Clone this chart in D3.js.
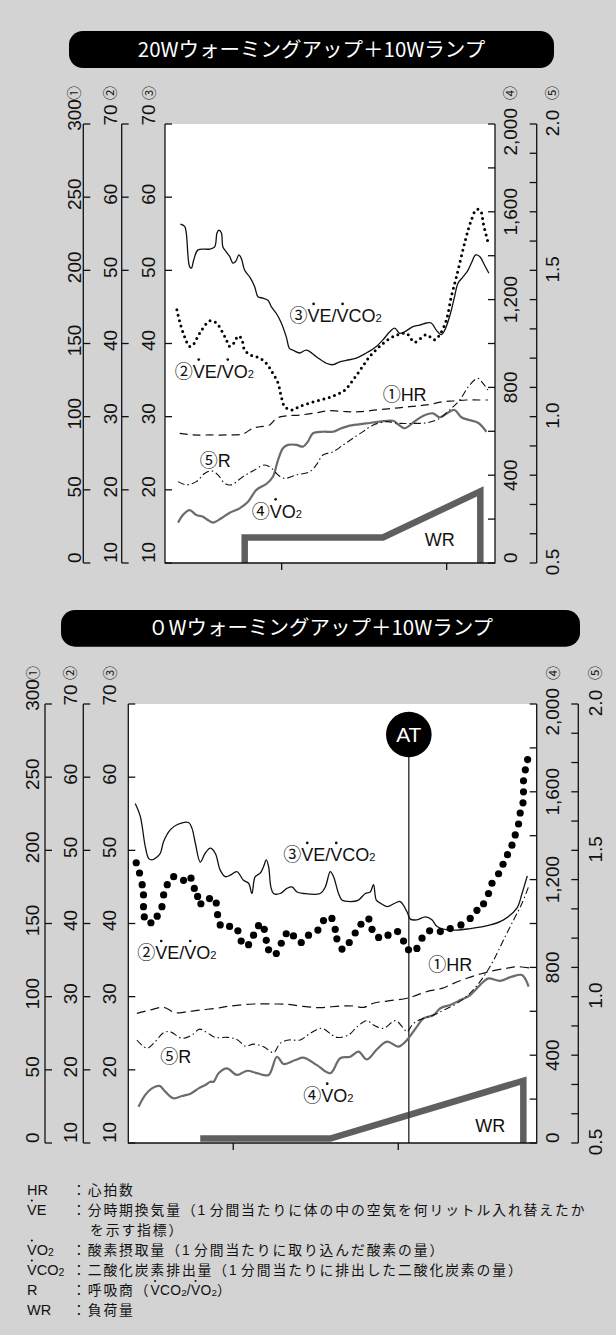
<!DOCTYPE html>
<html><head><meta charset="utf-8">
<script src="https://cdn.jsdelivr.net/npm/d3@7"></script>
<style>
html,body{margin:0;padding:0;background:#d3d3d3;}
svg{display:block;}
</style></head><body>
<svg id="c" width="616" height="1335"></svg>
<script>
// ================= DATA =================
const titles = ["20Wウォーミングアップ＋10Wランプ", "０Wウォーミングアップ＋10Wランプ"];
const hrTicks = [0, 50, 100, 150, 200, 250, 300];
const veTicks = [10, 20, 30, 40, 50, 60, 70];
const vo2Ticks = [0, 200, 400, 600, 800, 1000, 1200, 1400, 1600, 1800, 2000];
const vo2Labels = [0, 400, 800, 1200, 1600, 2000];
const rTicks = [0.5, 0.6, 0.7, 0.8, 0.9, 1.0, 1.1, 1.2, 1.3, 1.4, 1.5, 1.6, 1.7, 1.8, 1.9, 2.0];
const rLabels = [0.5, 1.0, 1.5, 2.0];
const timeTicks = [10, 20];
const axisNames = ["①", "②", "③", "④", "⑤"];

// ---- top chart (20W warm-up), [minutes, value] ----
const top_VEVCO2 = [[3.86,56.3],[4.12,56.0],[4.22,55.1],[4.42,50.5],[4.53,50.3],[4.67,51.4],[4.93,52.8],[5.64,52.9],[5.94,53.2],[6.08,55.1],[6.20,55.5],[6.35,55.1],[6.44,53.2],[6.65,52.5],[6.85,51.9],[7.05,51.0],[7.21,51.2],[7.41,52.1],[7.56,51.6],[7.76,50.0],[8.06,49.1],[8.36,47.8],[8.56,46.4],[8.87,46.2],[9.17,45.9],[9.38,45.0],[9.68,44.1],[9.98,42.8],[10.28,40.9],[10.48,39.3],[10.68,39.1],[11.09,38.7],[11.50,39.1],[12.10,38.2],[12.71,37.3],[13.11,37.1],[13.52,37.5],[13.92,37.7],[14.53,38.0],[15.13,38.7],[15.74,39.6],[16.14,40.5],[16.55,41.6],[16.85,42.1],[17.15,41.4],[17.45,41.6],[17.96,42.3],[18.36,42.5],[18.77,42.8],[19.07,42.8],[19.38,41.8],[19.68,41.2],[19.88,41.8],[20.18,43.7],[20.48,46.4],[20.68,48.2],[20.99,49.1],[21.29,50.0],[21.50,51.0],[21.76,52.1],[22.00,51.9],[22.30,50.7],[22.56,49.6]];
const top_VEVO2 = [[3.65,44.6],[3.82,43.0],[4.12,40.9],[4.42,39.6],[4.62,39.8],[5.03,41.4],[5.64,43.1],[6.04,42.8],[6.35,41.8],[6.65,40.5],[6.85,39.6],[7.15,40.2],[7.35,41.0],[7.56,40.7],[7.76,39.1],[8.16,38.4],[8.67,38.0],[9.07,37.3],[9.47,35.9],[9.78,34.6],[9.98,32.7],[10.18,31.4],[10.59,30.9],[11.09,31.4],[11.90,32.0],[12.71,32.5],[13.32,33.0],[13.82,33.6],[14.32,35.0],[14.83,36.6],[15.33,38.2],[15.94,39.6],[16.55,40.7],[17.05,41.2],[17.56,41.4],[18.06,40.2],[18.77,41.2],[19.27,40.5],[19.58,41.2],[19.98,43.2],[20.28,46.4],[20.59,49.1],[20.89,51.9],[21.19,54.6],[21.50,56.9],[21.80,58.3],[22.04,58.2],[22.24,56.2],[22.50,53.9]];
const top_HR = [[3.82,88.6],[4.62,87.5],[5.64,87.5],[6.65,87.5],[7.65,88.2],[8.26,92.2],[8.67,93.1],[9.27,94.3],[9.68,98.9],[10.28,100.5],[11.09,101.1],[12.10,102.7],[12.91,104.1],[13.92,103.4],[14.73,103.4],[15.74,104.6],[16.75,105.7],[17.76,106.8],[18.77,108.0],[19.78,110.2],[20.38,110.7],[21.19,111.4],[22.00,111.4],[22.50,111.4]];
const top_R = [[3.72,0.778],[4.22,0.767],[4.83,0.778],[5.33,0.806],[5.74,0.815],[6.14,0.801],[6.55,0.772],[6.95,0.767],[7.65,0.795],[8.36,0.818],[8.97,0.835],[9.38,0.824],[9.78,0.801],[10.18,0.789],[10.89,0.801],[11.70,0.812],[12.10,0.835],[12.50,0.869],[13.11,0.880],[13.72,0.903],[14.32,0.926],[14.93,0.949],[15.53,0.971],[16.35,0.983],[17.15,0.977],[17.96,0.977],[18.77,0.979],[19.58,0.994],[20.18,1.023],[20.79,1.057],[21.39,1.108],[21.90,1.131],[22.20,1.114],[22.50,1.091]];
const top_VO2 = [[3.72,184],[4.02,219],[4.42,241],[4.83,219],[5.23,211],[5.53,196],[5.84,184],[6.35,204],[6.85,229],[7.45,249],[7.96,279],[8.47,333],[9.07,360],[9.47,393],[9.78,469],[10.08,523],[10.38,538],[10.89,538],[11.29,530],[11.59,553],[11.90,591],[12.50,598],[13.11,598],[13.62,614],[14.12,626],[15.13,636],[15.94,644],[16.75,648],[17.05,632],[17.45,614],[17.96,639],[18.56,670],[19.17,682],[19.58,664],[20.08,685],[20.48,697],[20.89,664],[21.39,651],[21.90,639],[22.41,598]];
const WR_FLOOR = -5;
const top_WR = [[7.76,WR_FLOOR],[7.76,20],[16.14,20],[22.04,64],[22.04,WR_FLOOR]];

// ---- bottom chart (0W warm-up) ----
const bot_VEVCO2 = [[4.06,56.4],[4.36,54.7],[4.67,50.5],[4.87,48.9],[5.07,48.7],[5.38,49.1],[5.58,49.6],[5.78,51.2],[6.18,52.8],[6.59,53.5],[7.29,53.8],[7.50,53.0],[7.70,51.0],[8.00,48.4],[8.30,49.6],[8.61,50.3],[8.91,49.6],[9.21,47.3],[9.52,46.4],[9.82,46.6],[10.22,47.1],[10.62,45.9],[10.93,45.5],[11.13,44.1],[11.33,46.4],[11.64,46.9],[11.84,47.8],[12.00,48.7],[12.14,47.8],[12.28,45.0],[12.44,44.1],[12.85,44.1],[13.25,44.8],[13.56,45.0],[13.86,44.3],[14.26,44.1],[15.27,44.1],[15.58,45.0],[15.88,47.1],[16.08,46.4],[16.38,44.1],[16.59,43.2],[17.09,43.0],[17.59,43.2],[18.00,44.1],[18.30,44.3],[18.50,45.3],[18.67,43.2],[18.91,42.8],[19.32,42.3],[19.82,42.8],[20.12,43.0],[20.53,41.6],[20.73,40.6],[21.13,40.5],[21.64,40.9],[22.04,40.5],[22.35,39.6],[23.15,39.1],[24.36,39.3],[25.58,39.8],[26.38,40.5],[27.19,42.1],[27.50,44.1],[27.82,46.5]];
const bot_VEVO2 = [[4.12,48.3],[4.32,46.9],[4.48,45.3],[4.56,43.9],[4.56,42.3],[4.61,40.9],[5.01,40.1],[5.39,41.0],[5.68,42.3],[5.78,43.9],[6.00,45.3],[6.39,46.4],[6.99,45.9],[7.44,46.2],[7.64,44.8],[7.84,43.7],[8.04,42.7],[8.56,43.4],[8.97,42.8],[9.05,41.2],[9.21,39.8],[9.78,39.6],[10.28,39.0],[10.48,37.6],[10.93,37.1],[11.23,38.4],[11.53,39.7],[11.88,39.2],[12.00,37.7],[12.14,36.4],[12.61,35.9],[12.91,37.3],[13.21,38.6],[13.65,38.3],[14.12,37.4],[14.56,38.4],[15.13,39.1],[15.47,40.4],[15.98,40.7],[16.18,39.2],[16.28,37.9],[16.59,36.5],[17.03,37.4],[17.39,38.7],[17.74,39.9],[18.22,40.6],[18.41,39.2],[18.81,38.1],[19.38,38.4],[19.96,38.9],[20.32,37.6],[20.62,36.4],[21.13,36.6],[21.44,38.0],[21.90,39.0],[22.55,38.9],[23.15,39.3],[23.80,39.8],[24.36,40.7],[24.77,41.8],[25.17,42.7],[25.47,44.1],[25.68,45.5],[26.08,46.8],[26.35,48.1],[26.62,49.4],[26.89,50.7],[27.09,52.1],[27.29,53.6],[27.39,55.1],[27.56,56.5],[27.59,58.0],[27.59,59.5],[27.70,61.0],[27.84,62.4]];
const bot_HR = [[4.16,88.6],[4.97,90.9],[5.78,92.7],[6.48,89.0],[7.19,89.7],[8.00,90.9],[9.01,92.1],[9.82,93.6],[11.23,95.0],[12.44,95.0],[13.25,94.8],[14.06,93.6],[15.27,92.5],[16.48,93.6],[17.29,93.6],[17.90,92.7],[18.50,95.5],[19.32,97.0],[20.53,98.9],[21.13,101.1],[21.94,104.1],[22.65,105.7],[23.35,109.1],[24.16,112.6],[24.97,115.5],[25.78,117.8],[26.59,119.4],[27.19,120.5],[28.12,119.4]];
const bot_R = [[4.16,0.852],[4.77,0.824],[5.27,0.846],[5.78,0.877],[6.18,0.880],[6.89,0.858],[7.50,0.869],[7.96,0.889],[8.41,0.877],[8.91,0.861],[9.62,0.861],[10.22,0.854],[10.73,0.831],[11.23,0.838],[11.84,0.829],[12.44,0.809],[12.85,0.841],[13.35,0.852],[14.06,0.852],[14.67,0.875],[15.38,0.892],[15.98,0.869],[16.28,0.861],[16.99,0.869],[17.50,0.897],[18.10,0.918],[18.50,0.903],[19.11,0.892],[19.82,0.918],[20.32,0.892],[20.53,0.880],[20.93,0.909],[21.53,0.926],[22.14,0.937],[22.75,0.954],[23.56,0.977],[24.36,1.012],[25.17,1.068],[25.78,1.125],[26.38,1.194],[26.99,1.262],[27.50,1.319],[27.90,1.376]];
const bot_VO2 = [[4.26,165],[4.67,219],[5.07,249],[5.53,260],[5.88,234],[6.38,204],[6.89,214],[7.44,226],[7.90,249],[8.30,264],[8.61,279],[8.81,279],[9.11,318],[9.62,340],[10.22,310],[10.83,329],[11.44,318],[12.14,310],[12.65,393],[13.05,360],[13.76,378],[14.26,389],[15.07,355],[15.88,318],[16.48,386],[17.09,393],[17.59,416],[18.10,381],[18.71,427],[19.32,462],[20.02,439],[20.53,469],[21.13,530],[21.53,568],[22.14,583],[22.55,614],[23.15,629],[23.76,651],[24.36,674],[24.77,705],[25.17,735],[25.47,750],[26.18,739],[26.89,758],[27.50,765],[27.90,712]];
const bot_WR = [[8.00,0],[15.88,0],[27.58,55],[27.58,WR_FLOOR]];
const bot_AT = 20.64;

// series labels: [markup, minutes, value on ③ scale]
const top_labels = [["③^VE/^VCO_2",10.48,42.9],["②^VE/^VO_2",3.52,35.3],["①HR",16.12,32.1],["⑤R",5.03,23.1],["④^VO_2",8.18,16.2],["WR",18.67,12.3]];
const bot_labels = [["③^VE/^VCO_2",13.03,48.5],["②^VE/^VO_2",4.18,35.1],["①HR",21.82,33.5],["⑤R",5.58,20.9],["④^VO_2",14.24,15.6],["WR",24.67,11.5]];

// footnote legend
const legendTerms = ["HR", "^VE", "", "^VO_2", "^VCO_2", "R", "WR"];
const legendTexts = ["：心拍数", "：分時期換気量（1 分間当たりに体の中の空気を何リットル入れ替えたか", "を示す指標）", "：酸素摂取量（1 分間当たりに取り込んだ酸素の量）", "：二酸化炭素排出量（1 分間当たりに排出した二酸化炭素の量）", "：呼吸商（^VCO_2/^VO_2）", "：負荷量"];

// ================= DRAWING =================
const FONT = "'Liberation Sans', Arial, Helvetica, 'Noto Sans CJK JP', sans-serif";
const JFONT = "'Noto Sans CJK JP', sans-serif";
const svg = d3.select('#c');
svg.append('rect').attr('width', 616).attr('height', 1335).attr('fill', '#d3d3d3');

function richText(g, x, y, markup, size, opts = {}) {
  const fill = opts.fill || '#111';
  const t = g.append('text').attr('x', x).attr('y', y)
    .attr('font-family', FONT).attr('font-size', size).attr('fill', fill).style('opacity', 0.999);
  const runs = [], dots = [];
  let idx = 0, dot = false, sub = false;
  const kindOf = (ch, s) => s ? 'sub' : (/[\u2460-\u2473]/.test(ch) ? 'circ' : (/[\u3000-\u9fff\uff00-\uffef]/.test(ch) ? 'cjk' : 'lat'));
  for (const ch of markup) {
    if (ch === '^') { dot = true; continue; }
    if (ch === '_') { sub = true; continue; }
    const k = kindOf(ch, sub);
    const last = runs[runs.length - 1];
    if (last && last.k === k) last.text += ch; else runs.push({ text: ch, k });
    if (dot) dots.push(idx);
    idx++; dot = false; sub = false;
  }
  let shifted = 0;
  runs.forEach(r => {
    const ts = t.append('tspan').text(r.text).attr('fill', fill);
    if (r.k === 'circ' || r.k === 'cjk') ts.attr('font-family', JFONT);
    if (r.k === 'cjk' && opts.spacing) ts.attr('letter-spacing', opts.spacing);
    if (r.k === 'lat' && opts.latSpacing) ts.attr('letter-spacing', opts.latSpacing);
    if (r.k === 'sub') {
      ts.attr('font-size', size * (opts.subScale || 0.62));
      if (opts.subDy) { ts.attr('dy', opts.subDy); shifted += opts.subDy; }
    } else if (shifted) { ts.attr('dy', -shifted); shifted = 0; }
  });
  const node = t.node();
  dots.forEach(i => {
    const e = node.getExtentOfChar(i);
    const w = opts.latSpacing ? e.width - opts.latSpacing : e.width;
    g.append('circle').attr('cx', e.x + w / 2).attr('cy', y - (opts.dotRise || size * 1.02))
      .attr('r', opts.dotR || size * 0.075).attr('fill', fill);
  });
  return t;
}

function vText(g, xc, text, size, family) {
  return g.append('text').attr('text-anchor', 'middle').attr('dy', '0.36em')
    .attr('font-family', family || FONT).attr('font-size', size).attr('fill', '#111').text(text);
}

function drawChart(c) {
  const g = svg.append('g');
  const x = d3.scaleLinear().domain(c.tDomain).range([c.left, c.right]);
  const yVE = d3.scaleLinear().domain([10, 70]).range([c.bottom, c.top]);
  const yHR = d3.scaleLinear().domain([0, 300]).range([c.bottom, c.top]);
  const yVO2 = d3.scaleLinear().domain([0, 2000]).range([c.bottom, c.top]);
  const yR = d3.scaleLinear().domain([0.5, 2.0]).range([c.bottom, c.top]);
  const yWR = d3.scaleLinear().domain([0, 100]).range([c.bottom - 4.5, c.bottom - 109.5]);

  // title
  g.append('rect').attr('x', c.title[0]).attr('y', c.title[1]).attr('width', c.title[2]).attr('height', c.title[3])
    .attr('rx', 14).attr('fill', '#000');
  g.append('text').attr('x', c.title[0] + c.title[2] / 2).attr('y', c.titleBase).attr('text-anchor', 'middle')
    .attr('font-family', JFONT).attr('font-size', 20.5).attr('fill', '#fff').text(c.titleText);

  // plot background
  g.append('rect').attr('x', c.left).attr('y', c.top).attr('width', c.right - c.left).attr('height', c.bottom - c.top).attr('fill', '#fff');
  const clipId = 'clip' + c.id;
  g.append('clipPath').attr('id', clipId).append('rect')
    .attr('x', c.left).attr('y', c.top).attr('width', c.right - c.left).attr('height', c.bottom - c.top);
  const pg = g.append('g').attr('clip-path', `url(#${clipId})`);

  const curve = d3.curveCatmullRom.alpha(0.5);
  const mk = ys => d3.line().x(d => x(d[0])).y(d => ys(d[1])).curve(curve);

  // WR
  pg.append('path').attr('d', d3.line().x(d => x(d[0])).y(d => yWR(d[1]))(c.WR))
    .attr('fill', 'none').attr('stroke', '#5f5f5f').attr('stroke-width', 6.5).attr('stroke-linejoin', 'miter');
  // AT
  if (c.AT !== undefined) {
    pg.append('line').attr('x1', x(c.AT)).attr('x2', x(c.AT)).attr('y1', c.top + 30).attr('y2', c.bottom)
      .attr('stroke', '#333').attr('stroke-width', 1.4);
  }
  // VO2
  pg.append('path').attr('d', mk(yVO2)(c.VO2)).attr('fill', 'none').attr('stroke', '#6b6b6b').attr('stroke-width', 2.2);
  // R
  pg.append('path').attr('d', mk(yR)(c.R)).attr('fill', 'none').attr('stroke', '#111').attr('stroke-width', 1.1)
    .attr('stroke-dasharray', '7 3 1.5 3');
  // HR
  pg.append('path').attr('d', mk(yHR)(c.HR)).attr('fill', 'none').attr('stroke', '#111').attr('stroke-width', 1.2)
    .attr('stroke-dasharray', c.hrDash);
  // VE/VCO2
  pg.append('path').attr('d', mk(yVE)(c.VEVCO2)).attr('fill', 'none').attr('stroke', '#111').attr('stroke-width', 1.3);
  // VE/VO2
  if (c.bigDots) {
    pg.selectAll('circle.ve').data(c.VEVO2).enter().append('circle')
      .attr('cx', d => x(d[0])).attr('cy', d => yVE(d[1])).attr('r', 3.6).attr('fill', '#000');
  } else {
    pg.append('path').attr('d', mk(yVE)(c.VEVO2)).attr('fill', 'none').attr('stroke', '#000').attr('stroke-width', 3)
      .attr('stroke-linecap', 'round').attr('stroke-dasharray', '0 5.6');
  }
  // AT bubble
  if (c.AT !== undefined) {
    g.append('circle').attr('cx', x(c.AT)).attr('cy', c.top + 30.5).attr('r', 22.8).attr('fill', '#000');
    g.append('text').attr('x', x(c.AT)).attr('y', c.top + 38).attr('text-anchor', 'middle')
      .attr('font-family', FONT).attr('font-size', 21).attr('fill', '#fff').text('AT');
  }

  // frame / axes
  const ax = g.append('g').attr('stroke', '#111').attr('stroke-width', 1.3).attr('fill', 'none');
  const vline = (xx, y1, y2) => ax.append('line').attr('x1', xx).attr('x2', xx).attr('y1', y1).attr('y2', y2);
  const hline = (x1, x2, yy) => ax.append('line').attr('x1', x1).attr('x2', x2).attr('y1', yy).attr('y2', yy);
  vline(c.left, c.top, c.bottom + 0.6);
  vline(c.right, c.top, c.bottom + 0.6);
  hline(c.left, c.right, c.bottom);
  timeTicks.forEach(t => vline(x(t), c.bottom, c.bottom + 7));
  veTicks.forEach(v => hline(c.left, c.left + 7, yVE(v)));
  vo2Ticks.forEach(v => hline(c.right - 7, c.right, yVO2(v)));
  vline(c.ax1, c.top, c.bottom); hrTicks.forEach(v => hline(c.ax1, c.ax1 + 7, yHR(v)));
  vline(c.ax2, c.top, c.bottom); veTicks.forEach(v => hline(c.ax2, c.ax2 + 7, yVE(v)));
  vline(c.ax5, c.top, c.bottom); rTicks.forEach(v => hline(c.ax5 - 7, c.ax5, yR(v)));

  // tick labels
  const TS = 19;
  function labels(xc, vals, scale, fmt, mode) {
    vals.forEach((v, i) => {
      const t = vText(g, xc, fmt(v), TS);
      const L = t.node().getComputedTextLength();
      const ty = scale(v);
      let cy;
      if (mode === 'left') cy = i === 0 ? ty - L / 2 : (i === vals.length - 1 ? ty - 9 : ty - 3);
      else if (mode === 'r4') cy = i === 0 ? ty - L / 2 : (i === vals.length - 1 ? c.top - 16 + L / 2 : ty);
      else cy = ty - 1;
      t.attr('transform', `translate(${xc},${cy}) rotate(-90)`);
    });
  }
  labels(c.lab[0], hrTicks, yHR, d => String(d), 'left');
  labels(c.lab[1], veTicks, yVE, d => String(d), 'left');
  labels(c.lab[2], veTicks, yVE, d => String(d), 'left');
  labels(c.lab[3], vo2Labels, yVO2, d3.format(','), 'r4');
  labels(c.lab[4], rLabels, yR, d3.format('.1f'), 'r5');
  axisNames.forEach((n, i) => {
    vText(g, c.lab[i], n, 14, JFONT).attr('transform', `translate(${c.lab[i]},${c.top - 31}) rotate(-90)`);
  });

  // series labels
  c.labels.forEach(l => richText(g, x(l[1]), yVE(l[2]), l[0], 18));
}

drawChart({
  id: 'top', titleText: titles[0], title: [69, 31, 485, 37], titleBase: 57,
  left: 165, right: 495, top: 124, bottom: 563, tDomain: [2.93, 22.93],
  ax1: 83.3, ax2: 121.7, ax5: 536.7, lab: [74, 110, 148.5, 510, 552],
  VEVCO2: top_VEVCO2, VEVO2: top_VEVO2, HR: top_HR, R: top_R, VO2: top_VO2, WR: top_WR,
  hrDash: '8 5', bigDots: false, labels: top_labels
});
drawChart({
  id: 'bot', titleText: titles[1], title: [61, 610, 519, 36.7], titleBase: 635,
  left: 128.3, right: 536.7, top: 704, bottom: 1143, tDomain: [3.64, 28.39],
  ax1: 45, ax2: 83.3, ax5: 578.3, lab: [32.5, 70, 109.5, 552.5, 595],
  VEVCO2: bot_VEVCO2, VEVO2: bot_VEVO2, HR: bot_HR, R: bot_R, VO2: bot_VO2, WR: bot_WR, AT: bot_AT,
  hrDash: '9 5', bigDots: true, labels: bot_labels
});

// legend
const lg = svg.append('g');
const legendBase = [1195, 1215, 1235, 1255, 1275, 1295, 1315];
legendTerms.forEach((term, i) => {
  if (term) richText(lg, 27, legendBase[i], term, 14.5, { subScale: 0.72, subDy: 1, dotRise: 14.5, dotR: 1.1 });
  richText(lg, i === 2 ? 90 : 72, legendBase[i], legendTexts[i], 13.8,
    { subScale: 0.72, subDy: 1, spacing: 1.9, latSpacing: 0.3, dotRise: 14, dotR: 1.05 });
});
</script>
</body></html>
